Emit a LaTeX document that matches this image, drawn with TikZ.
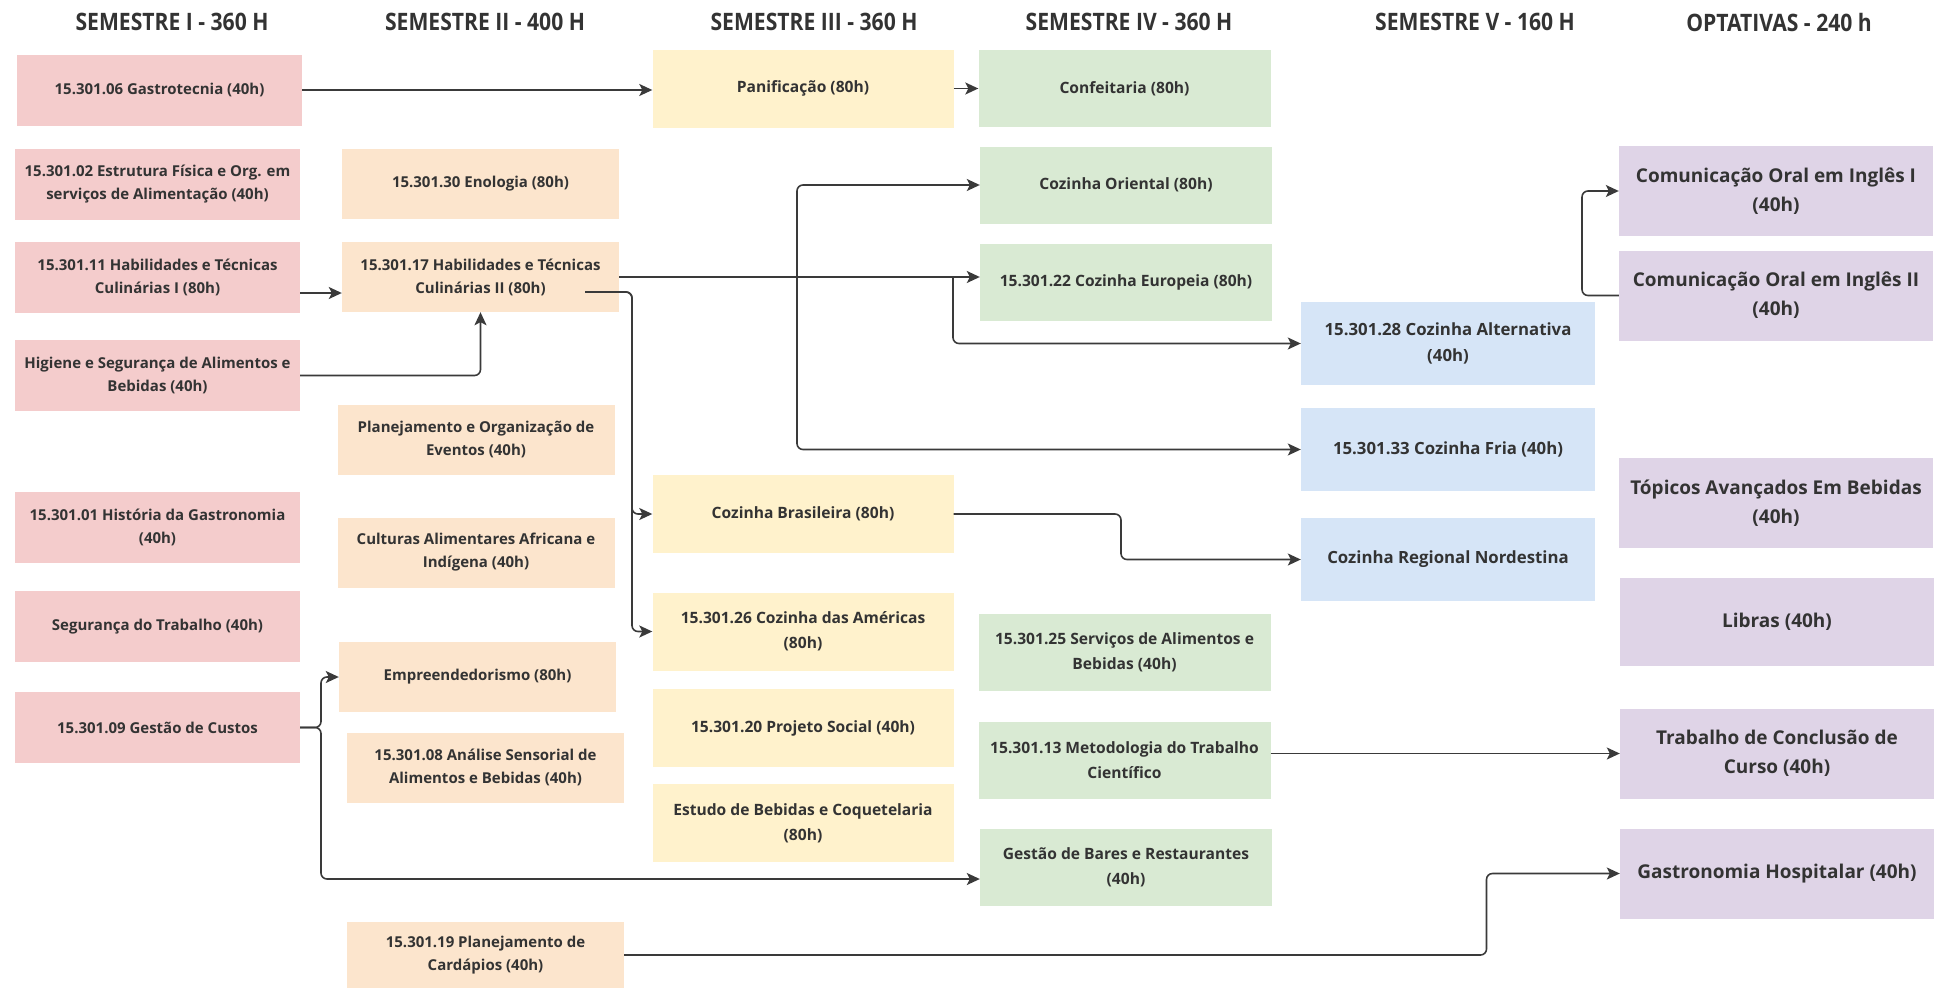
\documentclass[tikz,border=0pt]{standalone}
\usepackage{fontspec}
\setmainfont{Open Sans}
\newfontfamily\headfont{Open Sans}[FakeStretch=0.88]
\usetikzlibrary{arrows.meta}
\definecolor{txt}{HTML}{333333}
\definecolor{linec}{HTML}{3A3A3A}
\definecolor{cI}{HTML}{F4CCCC}
\definecolor{cII}{HTML}{FCE5CD}
\definecolor{cIII}{HTML}{FFF2CC}
\definecolor{cIV}{HTML}{D9EAD3}
\definecolor{cV}{HTML}{D6E5F7}
\definecolor{cOpt}{HTML}{DFD4E7}
\tikzset{
	disc/.style={inner sep=2pt, align=center, text=txt, font=\bfseries\fontsize{15}{23}\selectfont},
	semI/.style={disc, fill=cI, minimum width=285pt, minimum height=71pt},
	semII/.style={disc, fill=cII, minimum width=277pt, minimum height=70pt},
	semIII/.style={disc, fill=cIII, minimum width=301pt, minimum height=78pt, font=\bfseries\fontsize{15.6}{25}\selectfont},
	semIV/.style={disc, fill=cIV, minimum width=292pt, minimum height=77pt, font=\bfseries\fontsize{15.6}{25}\selectfont},
	semV/.style={disc, fill=cV, minimum width=294pt, minimum height=83pt, font=\bfseries\fontsize{16.8}{26}\selectfont},
	optat/.style={disc, fill=cOpt, minimum width=314pt, minimum height=90pt, font=\bfseries\fontsize{19}{29}\selectfont},
	head/.style={text=txt, font=\headfont\bfseries\fontsize{24}{24}\selectfont},
	arr/.style={draw=linec, line width=1.6pt, rounded corners=6pt, -{Stealth[length=13pt,width=12pt,inset=3pt]}},
}

\begin{document}
\begin{tikzpicture}[x=1pt, y=-1pt]
	\useasboundingbox (0,0) rectangle (1948,988);
	\node[head] (t1) at (172,22) {SEMESTRE I - 360 H};
	\node[head] (t2) at (485,22) {SEMESTRE II - 400 H};
	\node[head] (t3) at (814,22) {SEMESTRE III - 360 H};
	\node[head] (t4) at (1129,22) {SEMESTRE IV - 360 H};
	\node[head] (t5) at (1475,22) {SEMESTRE V - 160 H};
	\node[head] (t6) at (1779,22) {OPTATIVAS - 240 h};

	\node[semI] (gastro) at (159.5,90) {15.301.06 Gastrotecnia (40h)};
	\node[semI] (estrutura) at (157.5,184) {15.301.02 Estrutura Física e Org. em\\serviços de Alimentação (40h)};
	\node[semI] (hab1) at (157.5,277) {15.301.11 Habilidades e Técnicas\\Culinárias I (80h)};
	\node[semI] (higiene) at (157.5,375.5) {Higiene e Segurança de Alimentos e\\Bebidas (40h)};
	\node[semI] (historia) at (157.5,527.5) {15.301.01 História da Gastronomia\\(40h)};
	\node[semI] (segtrab) at (157.5,626.5) {Segurança do Trabalho (40h)};
	\node[semI] (custos) at (157.5,727.5) {15.301.09 Gestão de Custos};

	\node[semII] (enologia) at (480.5,184) {15.301.30 Enologia (80h)};
	\node[semII] (hab2) at (480.5,277) {15.301.17 Habilidades e Técnicas\\Culinárias II (80h)};
	\node[semII] (eventos) at (476,439.5) {Planejamento e Organização de\\Eventos (40h)};
	\node[semII] (culturas) at (476,552.5) {Culturas Alimentares Africana e\\Indígena (40h)};
	\node[semII] (empreend) at (477.5,677) {Empreendedorismo (80h)};
	\node[semII] (analise) at (485.5,767.5) {15.301.08 Análise Sensorial de\\Alimentos e Bebidas (40h)};
	\node[semII, minimum height=66pt] (cardapios) at (485.5,955) {15.301.19 Planejamento de\\Cardápios (40h)};

	\node[semIII] (panif) at (803,88.5) {Panificação (80h)};
	\node[semIII] (brasileira) at (803,514) {Cozinha Brasileira (80h)};
	\node[semIII] (americas) at (803,631.5) {15.301.26 Cozinha das Américas\\(80h)};
	\node[semIII] (projeto) at (803,728) {15.301.20 Projeto Social (40h)};
	\node[semIII] (estudo) at (803,823) {Estudo de Bebidas e Coquetelaria\\(80h)};

	\node[semIV] (confeitaria) at (1124.5,88.5) {Confeitaria (80h)};
	\node[semIV] (oriental) at (1126,185) {Cozinha Oriental (80h)};
	\node[semIV] (europeia) at (1126,282) {15.301.22 Cozinha Europeia (80h)};
	\node[semIV] (servicos) at (1124.5,652.5) {15.301.25 Serviços de Alimentos e\\Bebidas (40h)};
	\node[semIV] (metodologia) at (1124.5,760) {15.301.13 Metodologia do Trabalho\\Científico};
	\node[semIV] (bares) at (1126,867) {Gestão de Bares e Restaurantes\\(40h)};

	\node[semV] (alternativa) at (1448,343.5) {15.301.28 Cozinha Alternativa\\(40h)};
	\node[semV] (fria) at (1448,449.5) {15.301.33 Cozinha Fria (40h)};
	\node[semV] (nordestina) at (1448,559.5) {Cozinha Regional Nordestina};

	\node[optat] (com1) at (1776,191) {Comunicação Oral em Inglês I\\(40h)};
	\node[optat] (com2) at (1776,295.5) {Comunicação Oral em Inglês II\\(40h)};
	\node[optat] (topicos) at (1776,503) {Tópicos Avançados Em Bebidas\\(40h)};
	\node[optat, minimum height=88pt] (libras) at (1777,622) {Libras (40h)};
	\node[optat] (tcc) at (1777,753.5) {Trabalho de Conclusão de\\Curso (40h)};
	\node[optat] (hospitalar) at (1777,873.5) {Gastronomia Hospitalar (40h)};

	\coordinate (j1) at (797,277);
	\coordinate (j2) at (953,277);
	\coordinate (j3) at (632,292);
	\coordinate (j4) at (321,727.5);
	\coordinate (j5) at (1121,514);
	\coordinate (j6) at (1486.5,955);
	\coordinate (j7) at (1582,295.5);

	\draw[arr] (gastro.east) -- (gastro.east -| panif.west);
	\draw[arr] (panif.east) -- (confeitaria.west);
	\draw[arr] ([yshift=-16pt]hab1.east) -- ([yshift=-16pt]hab2.west);
	\draw[arr] (higiene.east) -| (hab2.south);
	\draw[arr] (hab2.east) -- (hab2.east -| europeia.west);
	\draw[arr] (j1) |- (oriental.west);
	\draw[arr] (j1) |- (fria.west);
	\draw[arr] (j2) |- (alternativa.west);
	\draw[arr] ([xshift=-34pt,yshift=-15pt]hab2.east) -- (j3) |- (brasileira.west);
	\draw[arr] ([xshift=-34pt,yshift=-15pt]hab2.east) -- (j3) |- (americas.west);
	\draw[arr] (custos.east) -- (j4) |- (empreend.west);
	\draw[arr] (custos.east) -- (j4) |- ([yshift=-12pt]bares.west);
	\draw[arr] (brasileira.east) -- (j5) |- (nordestina.west);
	\draw[arr] (metodologia.east |- tcc.west) -- (tcc.west);
	\draw[arr] (com2.west) -- (j7) |- (com1.west);
	\draw[arr] (cardapios.east) -- (j6) |- (hospitalar.west);
\end{tikzpicture}
\end{document}
